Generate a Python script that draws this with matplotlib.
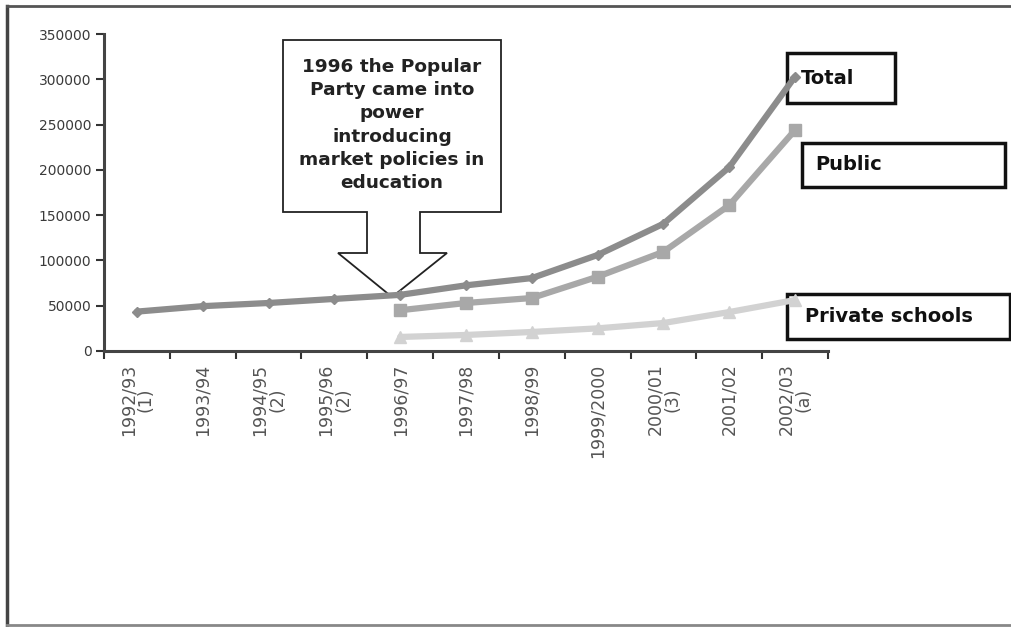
import matplotlib
matplotlib.use("Agg")
import matplotlib.pyplot as plt
from matplotlib.patches import Rectangle, Polygon

# --- data ---
years = ["1992/93\n(1)", "1993/94", "1994/95\n(2)", "1995/96\n(2)", "1996/97",
         "1997/98", "1998/99", "1999/2000", "2000/01\n(3)", "2001/02", "2002/03\n(a)"]
total = [43500, 49500, 53000, 57500, 62000, 72500, 80500, 106000, 140500, 203000, 303000]
public_idx = [4, 5, 6, 7, 8, 9, 10]
public = [45000, 53000, 58500, 82000, 109500, 161000, 244000]
private = [15500, 17700, 21000, 25000, 30900, 43000, 56300]
yticks = [0, 50000, 100000, 150000, 200000, 250000, 300000, 350000]

note = "1996 the Popular\nParty came into\npower\nintroducing\nmarket policies in\neducation"

W, H = 1012, 627
fig = plt.figure(figsize=(W / 100, H / 100), dpi=100)
fig.patch.set_facecolor("white")

# overlay in pixel coordinates for frame, boxes and callout (drawn below the lines)
ov = fig.add_axes([0, 0, 1, 1], zorder=0)
ov.set_xlim(0, W); ov.set_ylim(H, 0); ov.axis("off")

ax = fig.add_axes([104 / W, 1 - 351 / H, (828 - 104) / W, (351 - 34) / H], zorder=1)
ax.patch.set_alpha(0)

x = list(range(len(years)))
ax.plot(x, total, color="#8c8c8c", lw=4.5, marker="D", ms=5, solid_capstyle="round", zorder=3)
ax.plot(public_idx, public, color="#a8a8a8", lw=4.5, marker="s", ms=8, solid_capstyle="round", zorder=2)
ax.plot(public_idx, private, color="#d2d2d2", lw=4.5, marker="^", ms=8, solid_capstyle="round", zorder=2)

ax.set_xlim(-0.5, len(years) - 0.5)
ax.set_ylim(0, 350000)
ax.set_yticks(yticks)
ax.set_yticklabels([str(v) for v in yticks], fontsize=10, color="#3a3a3a")
ax.set_xticks([i - 0.5 for i in range(len(years) + 1)])
ax.set_xticklabels([])
ax.set_xticks(x, minor=True)
ax.set_xticklabels(years, minor=True, rotation=90, fontsize=12.5, color="#555555",
                   va="top", ha="center", multialignment="center", linespacing=0.95)
ax.tick_params(axis="x", which="minor", length=0, pad=9)
ax.tick_params(axis="x", which="major", length=6, width=1.5, color="#333333", direction="out")
ax.tick_params(axis="y", length=6, width=1.5, color="#333333", pad=3)
for s in ["top", "right"]:
    ax.spines[s].set_visible(False)
for s in ["left", "bottom"]:
    ax.spines[s].set_color("#444444")
    ax.spines[s].set_linewidth(2.2)

# outer frame of the figure
ov.plot([7, 7], [6, 625], color="#444444", lw=2.5)
ov.plot([7, W], [6, 6], color="#555555", lw=2)
ov.plot([7, W], [625, 625], color="#888888", lw=2)

# callout box with arrow
ov.add_patch(Polygon([(283, 40), (501, 40), (501, 212), (420, 212), (420, 253), (447, 253),
                      (392, 297), (338, 253), (367, 253), (367, 212), (283, 212)],
                     closed=True, facecolor="white", edgecolor="#222222", lw=1.3))
ov.text(392, 125, note, ha="center", va="center", fontsize=13.3, fontweight="bold",
        color="#222222", linespacing=1.38)

# series label boxes
for (x0, y0, x1, y1, tx, lab) in [(787, 53, 895, 103, 801, "Total"),
                                  (802, 143, 1005, 187, 815, "Public"),
                                  (787, 294, 1010, 339, 805, "Private schools")]:
    ov.add_patch(Rectangle((x0, y0), x1 - x0, y1 - y0, facecolor="white",
                           edgecolor="#111111", lw=2.5))
    ov.text(tx, (y0 + y1) / 2, lab, ha="left", va="center", fontsize=14,
            fontweight="bold", color="#111111")

plt.savefig("out.png", dpi=100)
